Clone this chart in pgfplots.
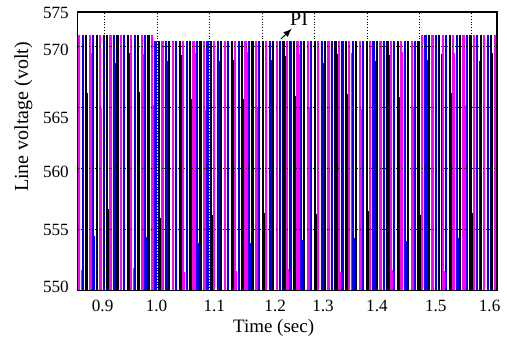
\documentclass[border=0pt]{standalone}
\usepackage{fontspec}
\setmainfont{Liberation Serif}
\usepackage{pgfplots}
\usepackage{pgfplotstable}
\pgfplotsset{compat=1.18}
\usetikzlibrary{calc}
\definecolor{mag}{RGB}{255,0,255}
\definecolor{blu}{RGB}{0,0,255}

\pgfplotstableread{
t v
0.8519 571.0
0.8717 571.0
0.8915 571.0
0.9113 571.0
0.9311 571.0
0.9509 571.0
0.9706 571.0
0.9904 571.0
1.0102 570.46
1.0300 570.46
1.0498 570.46
1.0696 570.46
1.0894 570.46
1.1092 570.46
1.1290 570.46
1.1488 570.46
1.1685 570.46
1.1883 570.46
1.2081 570.46
1.2279 570.46
1.2477 570.46
1.2675 570.46
1.2873 570.46
1.3071 570.46
1.3269 570.46
1.3467 570.46
1.3664 570.46
1.3862 570.46
1.4060 570.46
1.4258 570.46
1.4456 570.46
1.4654 570.46
1.4852 570.46
1.5050 571.0
1.5248 571.0
1.5446 571.0
1.5643 571.0
1.5841 571.0
1.6039 571.0
1.6237 571.0
1.6435 571.0
}\magbars

\pgfplotstableread{
t v
0.8585 571.0
0.8783 571.0
0.8981 571.0
0.9179 571.0
0.9377 571.0
0.9575 571.0
0.9772 571.0
0.9970 570.46
1.0168 570.46
1.0366 570.46
1.0564 570.46
1.0762 570.46
1.0960 570.46
1.1158 570.46
1.1356 570.46
1.1554 570.46
1.1751 570.46
1.1949 570.46
1.2147 570.46
1.2345 570.46
1.2543 570.46
1.2741 570.46
1.2939 570.46
1.3137 570.46
1.3335 570.46
1.3533 570.46
1.3730 570.46
1.3928 570.46
1.4126 570.46
1.4324 570.46
1.4522 570.46
1.4720 570.46
1.4918 570.46
1.5116 571.0
1.5314 571.0
1.5512 571.0
1.5709 571.0
1.5907 571.0
1.6105 571.0
1.6303 571.0
}\blubars

\pgfplotstableread{
t v
0.8651 571.0
0.8849 571.0
0.9047 571.0
0.9245 571.0
0.9443 571.0
0.9641 571.0
0.9838 571.0
1.0036 570.46
1.0234 570.46
1.0432 570.46
1.0630 570.46
1.0828 570.46
1.1026 570.46
1.1224 570.46
1.1422 570.46
1.1620 570.46
1.1817 570.46
1.2015 570.46
1.2213 570.46
1.2411 570.46
1.2609 570.46
1.2807 570.46
1.3005 570.46
1.3203 570.46
1.3401 570.46
1.3599 570.46
1.3796 570.46
1.3994 570.46
1.4192 570.46
1.4390 570.46
1.4588 570.46
1.4786 570.46
1.4984 570.46
1.5182 571.0
1.5380 571.0
1.5578 571.0
1.5775 571.0
1.5973 571.0
1.6171 571.0
1.6369 571.0
}\blkbars

\pgfplotstableread{
t v
0.8519 551.7
0.8717 569.5
0.8915 565.0
0.9509 551.9
0.9706 569.4
0.9904 565.2
1.0498 551.5
1.0696 569.5
1.0894 564.8
1.1488 551.6
1.1685 569.6
1.1883 565.0
1.2477 551.8
1.2675 569.4
1.2873 565.1
1.3467 551.5
1.3664 569.5
1.3862 564.9
1.4456 551.7
1.4654 569.6
1.4852 565.0
1.5446 551.6
1.5643 569.5
1.5841 565.2
1.6435 551.7
}\magpart

\pgfplotstableread{
t v
0.8783 554.5
0.9179 568.7
0.9772 554.4
1.0168 568.8
1.0762 553.9
1.1158 568.8
1.1751 553.9
1.2147 568.9
1.2741 554.2
1.3137 568.7
1.3730 554.3
1.4126 568.8
1.4720 554.1
1.5116 568.9
1.5709 554.3
1.6105 568.8
}\blupart

\pgfplotstableread{
t v
0.8651 566.2
0.9047 556.7
0.9443 569.5
0.9641 566.3
1.0036 556.0
1.0432 569.3
1.0630 565.7
1.1026 556.2
1.1422 568.9
1.1620 565.7
1.2015 556.4
1.2411 569.2
1.2609 566.0
1.3005 556.3
1.3401 569.4
1.3599 566.1
1.3994 556.5
1.4390 569.3
1.4588 565.9
1.4984 556.2
1.5380 569.4
1.5578 566.2
1.5973 556.4
1.6369 569.5
}\blkpart

\begin{document}
\begin{tikzpicture}
\begin{axis}[
  scale only axis,
  width=210pt, height=139.65pt,
  xmin=0.849, xmax=1.648,
  ymin=550, ymax=572.85,
  axis on top,
  axis line style={black, line width=0.6pt},
  xtick={0.9,1.0,1.1,1.2,1.3,1.4,1.5,1.6},
  xticklabels={},
  ytick={555,560,565,570},
  yticklabels={},
  major tick length=0pt,
  grid=major,
  major grid style={densely dotted, black, line width=0.45pt},
  extra x ticks={0.8962,0.9989,1.1091,1.2251,1.3163,1.4190,1.5312,1.6338},
  extra x tick labels={0.9,1.0,1.1,1.2,1.3,1.4,1.5,1.6},
  extra y ticks={550.3,555.0,559.75,564.2,569.73,572.75},
  extra y tick labels={550,555,560,565,570,575},
  extra tick style={grid=none, major tick length=0pt},
  /pgf/number format/assume math mode=true,
  tick label style={font=\fontsize{8.6}{10}\selectfont, text=black},
  xticklabel style={yshift=-1pt},
  yticklabel style={xshift=-1pt},
  xlabel={Time (sec)},
  ylabel={Line voltage (volt)},
  xlabel style={at={(axis description cs:0.467,-0.1325)}, anchor=center, font=\fontsize{9.5}{11}\selectfont},
  ylabel style={at={(axis description cs:-0.1298,0.623)}, anchor=center, font=\fontsize{10}{12}\selectfont},
]
\addplot[ycomb, draw=mag, line width=1.1pt, mark=none] table[x=t,y=v] {\magbars};
\addplot[ycomb, draw=blu, line width=1.1pt, mark=none] table[x=t,y=v] {\blubars};
\addplot[ycomb, draw=black, line width=1.1pt, mark=none] table[x=t,y=v] {\blkbars};
\addplot[ycomb, draw=mag, line width=0.5pt, mark=none, xshift=0.85pt] table[x=t,y=v] {\magpart};
\addplot[ycomb, draw=blu, line width=0.5pt, mark=none, xshift=0.85pt] table[x=t,y=v] {\blupart};
\addplot[ycomb, draw=black, line width=0.5pt, mark=none, xshift=0.85pt] table[x=t,y=v] {\blkpart};
\draw[-latex, black, line width=0.5pt] (axis cs:1.2359,570.63) -- (axis cs:1.2568,571.48);
\node[font=\fontsize{10}{12}\selectfont, inner sep=0pt] at (axis cs:1.2707,572.25) {PI};
\end{axis}
\path ($(current axis.south west)+(-39pt,-25pt)$) rectangle ($(current axis.north east)+(4.5pt,6pt)$);
\end{tikzpicture}
\end{document}
